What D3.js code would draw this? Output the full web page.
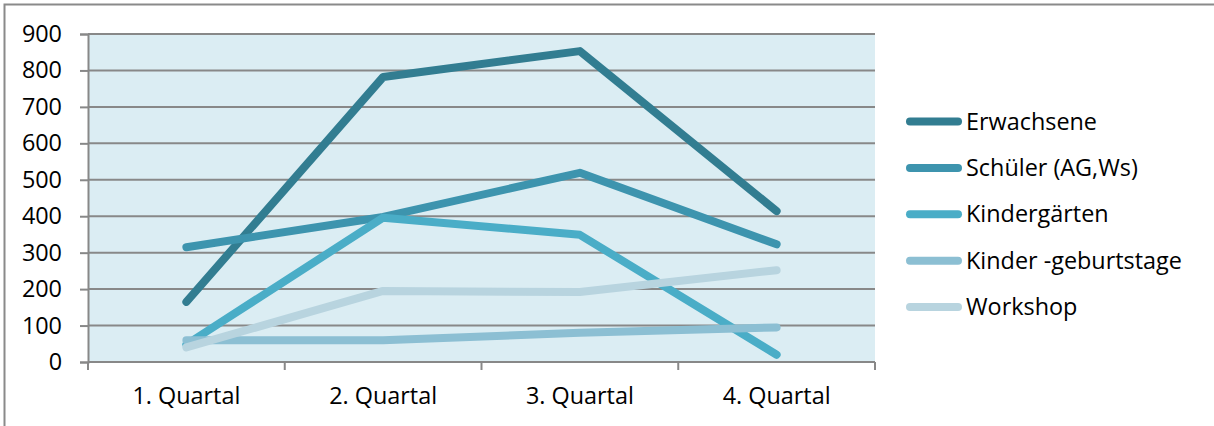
<!DOCTYPE html>
<html>
<head>
<meta charset="utf-8">
<script src="https://cdn.jsdelivr.net/npm/d3@7"></script>
<style>
  html, body { margin: 0; padding: 0; background: #fff; }
  svg { display: block; }
  text { font-family: "Open Sans", "Noto Sans", sans-serif; fill: #000; }
</style>
</head>
<body>
<svg id="chart" width="1214" height="426"></svg>
<script>
// Quarterly visitor numbers by group
const quarters = ["1. Quartal", "2. Quartal", "3. Quartal", "4. Quartal"];
const seriesNames = ["Erwachsene", "Schüler (AG,Ws)", "Kindergärten", "Kinder -geburtstage", "Workshop"];
const erwachsene = [165, 782, 853, 414];
const schueler = [315, 398, 519, 323];
const kindergaerten = [48, 396, 349, 20];
const kindergeburtstage = [60, 60, 80, 95];
const workshop = [40, 195, 192, 252];
const yTicks = [0, 100, 200, 300, 400, 500, 600, 700, 800, 900];
const colors = ["#327d91", "#3d94ae", "#4aadc7", "#8cbfd3", "#b8d4df"];

const seriesValues = [erwachsene, schueler, kindergaerten, kindergeburtstage, workshop];

const FONT = 23.4;
const svg = d3.select("#chart");

// Outer frame (top and left edges visible)
svg.append("rect")
  .attr("x", 4.5).attr("y", 4.5)
  .attr("width", 1240).attr("height", 440)
  .attr("fill", "none").attr("stroke", "#8a8a8a").attr("stroke-width", 2);

const plot = { left: 88, right: 875, top: 34, bottom: 362 };

const x = d3.scaleBand().domain(quarters).range([plot.left, plot.right]).padding(0);
const y = d3.scaleLinear().domain([0, 900]).range([plot.bottom, plot.top]);

// Plot background
svg.append("rect")
  .attr("x", plot.left).attr("y", plot.top)
  .attr("width", plot.right - plot.left).attr("height", plot.bottom - plot.top)
  .attr("fill", "#dbedf3");

// Horizontal gridlines
svg.append("g")
  .selectAll("line")
  .data(yTicks.filter(d => d > 0))
  .join("line")
  .attr("x1", plot.left).attr("x2", plot.right)
  .attr("y1", d => y(d)).attr("y2", d => y(d))
  .attr("stroke", "#888").attr("stroke-width", 2);

// Y axis
const yAxis = svg.append("g")
  .attr("transform", `translate(${plot.left},0)`)
  .call(d3.axisLeft(y).tickValues(yTicks).tickSize(8).tickPadding(18));
yAxis.select(".domain").attr("stroke", "#888").attr("stroke-width", 2);
yAxis.selectAll(".tick line").attr("stroke", "#888").attr("stroke-width", 2);
yAxis.selectAll(".tick text")
  .style("font-family", "'Open Sans', 'Noto Sans', sans-serif")
  .style("font-size", FONT + "px").attr("fill", "#000");

// X axis with ticks at band boundaries
const xAxisG = svg.append("g").attr("transform", `translate(0,${plot.bottom})`);
xAxisG.append("line")
  .attr("x1", plot.left).attr("x2", plot.right)
  .attr("stroke", "#888").attr("stroke-width", 2);
const boundaries = quarters.map(q => x(q)).concat([x(quarters[quarters.length - 1]) + x.bandwidth()]);
xAxisG.selectAll("line.tk")
  .data(boundaries)
  .join("line").attr("class", "tk")
  .attr("x1", d => d).attr("x2", d => d)
  .attr("y1", 0).attr("y2", 8)
  .attr("stroke", "#888").attr("stroke-width", 2);
xAxisG.selectAll("text")
  .data(quarters)
  .join("text")
  .attr("x", d => x(d) + x.bandwidth() / 2)
  .attr("y", 42)
  .attr("text-anchor", "middle")
  .style("font-size", FONT + "px")
  .text(d => d);

// Series lines
const line = d3.line()
  .x((d, i) => x(quarters[i]) + x.bandwidth() / 2)
  .y(d => y(d));

svg.append("g")
  .selectAll("path")
  .data(seriesValues)
  .join("path")
  .attr("d", d => line(d))
  .attr("fill", "none")
  .attr("stroke", (d, i) => colors[i])
  .attr("stroke-width", 8)
  .attr("stroke-linecap", "round")
  .attr("stroke-linejoin", "round");

// Legend
const legend = svg.append("g");
const legendY = d3.scalePoint().domain(seriesNames).range([121.5, 307]);
const rows = legend.selectAll("g")
  .data(seriesNames)
  .join("g")
  .attr("transform", d => `translate(0,${legendY(d)})`);
rows.append("line")
  .attr("x1", 910).attr("x2", 958)
  .attr("stroke", (d, i) => colors[i])
  .attr("stroke-width", 8)
  .attr("stroke-linecap", "round");
rows.append("text")
  .attr("x", 966).attr("y", 8)
  .style("font-size", FONT + "px")
  .text(d => d);
</script>
</body>
</html>
